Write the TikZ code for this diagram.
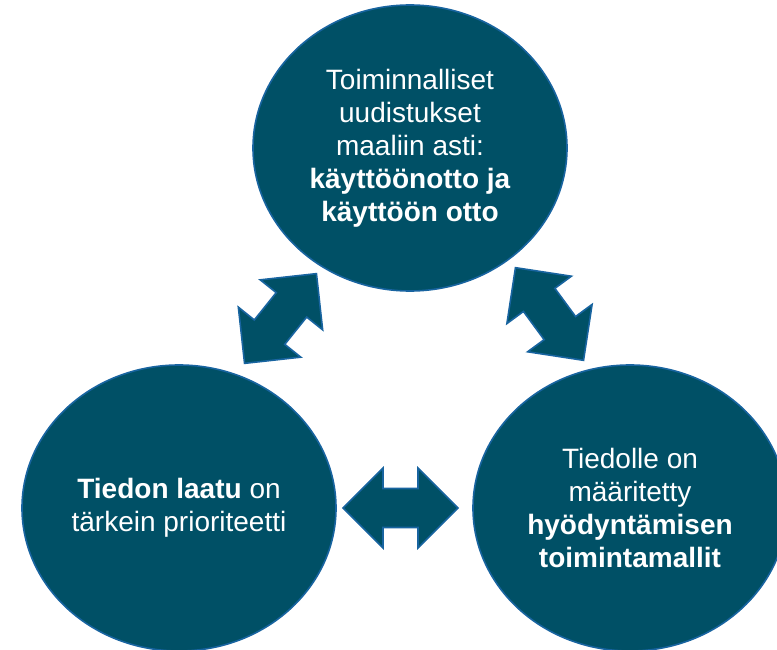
\documentclass[tikz,border=0pt]{standalone}
\usepackage{fontspec}
\setmainfont{Liberation Sans}
\usepackage{xcolor}
\usetikzlibrary{shapes.geometric, calc}

\definecolor{teal}{RGB}{0,80,102}
\definecolor{rim}{RGB}{24,100,160}

\tikzset{
	goal/.style={ellipse, draw=rim, line width=1.6pt, fill=teal, text=white, align=center, minimum width=314pt, minimum height=286pt, inner sep=0pt, font=\fontsize{28}{33}\selectfont},
	twoway/.pic={
		\draw[draw=rim, line width=1.6pt, fill=teal, line join=miter] (-57.5, 0) -- (-17.5, -40) -- (-17.5, -19.5) -- (17.5, -19.5) -- (17.5, -40) -- (57.5, 0) -- (17.5, 40) -- (17.5, 19.5) -- (-17.5, 19.5) -- (-17.5, 40) -- cycle;
	}
}

\begin{document}
\begin{tikzpicture}[x=1pt, y=-1pt]
			\useasboundingbox (0, 0) rectangle (777, 650);
			\node [goal] (top) at (410, 148) {Toiminnalliset\\uudistukset\\maaliin asti:\\\textbf{käyttöönotto ja}\\\textbf{käyttöön otto}};
			\node [goal] (left) at (179, 508) {\textbf{Tiedon laatu} on\\tärkein prioriteetti};
			\node [goal] (right) at (630, 508) {Tiedolle on\\määritetty\\\textbf{hyödyntämisen}\\\textbf{toimintamallit}};
			\coordinate (topleft) at (280.5, 318.5);
			\coordinate (topright) at (549.5, 314);
			\coordinate (leftright) at (400.5, 508);
			\pic [rotate=51.3] at (topleft) {twoway};
			\pic [rotate=-53.7] at (topright) {twoway};
			\pic at (leftright) {twoway};
		\end{tikzpicture}
\end{document}
